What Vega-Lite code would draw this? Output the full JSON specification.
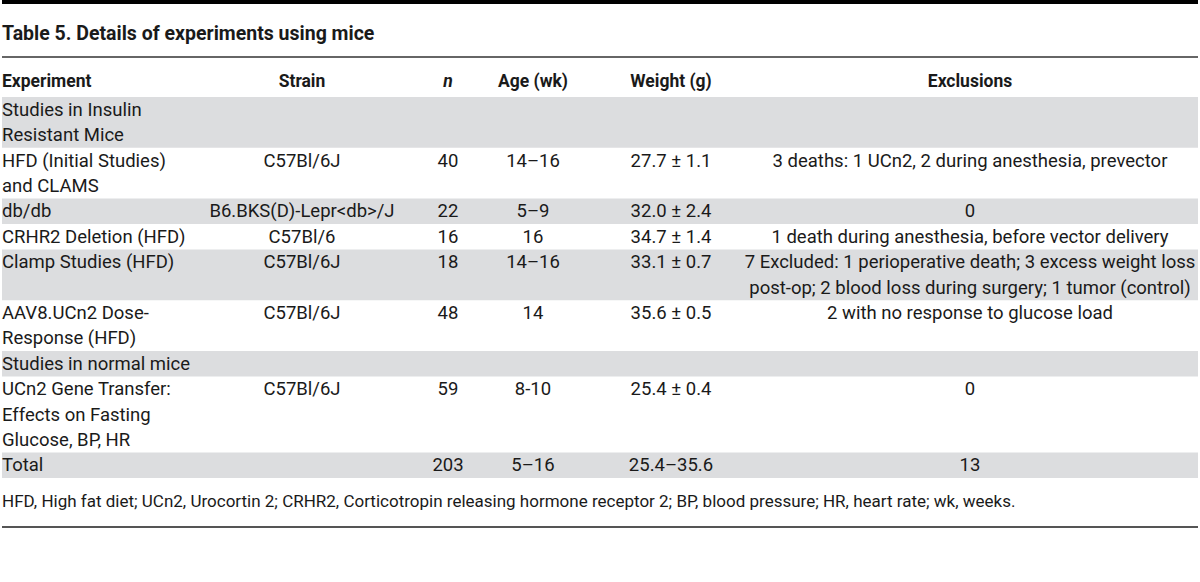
{
  "$schema": "https://vega.github.io/schema/vega-lite/v6.json",
  "width": 1200,
  "height": 582,
  "autosize": {"type": "fit", "contains": "padding"},
  "padding": 0,
  "background": "white",
  "config": {"view": {"stroke": null}, "text": {"font": "Roboto", "color": "#1a1a1a"}},
  "datasets": {
    "bands": [
      {"from": -0.5, "to": 1.5},
      {"from": 3.5, "to": 4.5},
      {"from": 5.5, "to": 7.5},
      {"from": 9.5, "to": 10.5},
      {"from": 13.5, "to": 14.5}
    ],
    "headers": [
      {"ci": 0, "text": "Experiment"},
      {"ci": 1, "text": "Strain"},
      {"ci": 2, "text": "n"},
      {"ci": 3, "text": "Age (wk)"},
      {"ci": 4, "text": "Weight (g)"},
      {"ci": 5, "text": "Exclusions"}
    ],
    "cells": [
      {"ci": 0, "ln": 0, "text": "Studies in Insulin"},
      {"ci": 0, "ln": 1, "text": "Resistant Mice"},
      {"ci": 0, "ln": 2, "text": "HFD (Initial Studies)"},
      {"ci": 0, "ln": 3, "text": "and CLAMS"},
      {"ci": 0, "ln": 4, "text": "db/db"},
      {"ci": 0, "ln": 5, "text": "CRHR2 Deletion (HFD)"},
      {"ci": 0, "ln": 6, "text": "Clamp Studies (HFD)"},
      {"ci": 0, "ln": 8, "text": "AAV8.UCn2 Dose-"},
      {"ci": 0, "ln": 9, "text": "Response (HFD)"},
      {"ci": 0, "ln": 10, "text": "Studies in normal mice"},
      {"ci": 0, "ln": 11, "text": "UCn2 Gene Transfer:"},
      {"ci": 0, "ln": 12, "text": "Effects on Fasting"},
      {"ci": 0, "ln": 13, "text": "Glucose, BP, HR"},
      {"ci": 0, "ln": 14, "text": "Total"},
      {"ci": 1, "ln": 2, "text": "C57Bl/6J"},
      {"ci": 1, "ln": 4, "text": "B6.BKS(D)-Lepr<db>/J"},
      {"ci": 1, "ln": 5, "text": "C57Bl/6"},
      {"ci": 1, "ln": 6, "text": "C57Bl/6J"},
      {"ci": 1, "ln": 8, "text": "C57Bl/6J"},
      {"ci": 1, "ln": 11, "text": "C57Bl/6J"},
      {"ci": 2, "ln": 2, "text": "40"},
      {"ci": 2, "ln": 4, "text": "22"},
      {"ci": 2, "ln": 5, "text": "16"},
      {"ci": 2, "ln": 6, "text": "18"},
      {"ci": 2, "ln": 8, "text": "48"},
      {"ci": 2, "ln": 11, "text": "59"},
      {"ci": 2, "ln": 14, "text": "203"},
      {"ci": 3, "ln": 2, "text": "14–16"},
      {"ci": 3, "ln": 4, "text": "5–9"},
      {"ci": 3, "ln": 5, "text": "16"},
      {"ci": 3, "ln": 6, "text": "14–16"},
      {"ci": 3, "ln": 8, "text": "14"},
      {"ci": 3, "ln": 11, "text": "8-10"},
      {"ci": 3, "ln": 14, "text": "5–16"},
      {"ci": 4, "ln": 2, "text": "27.7 ± 1.1"},
      {"ci": 4, "ln": 4, "text": "32.0 ± 2.4"},
      {"ci": 4, "ln": 5, "text": "34.7 ± 1.4"},
      {"ci": 4, "ln": 6, "text": "33.1 ± 0.7"},
      {"ci": 4, "ln": 8, "text": "35.6 ± 0.5"},
      {"ci": 4, "ln": 11, "text": "25.4 ± 0.4"},
      {"ci": 4, "ln": 14, "text": "25.4–35.6"},
      {"ci": 5, "ln": 2, "text": "3 deaths: 1 UCn2, 2 during anesthesia, prevector"},
      {"ci": 5, "ln": 4, "text": "0"},
      {"ci": 5, "ln": 5, "text": "1 death during anesthesia, before vector delivery"},
      {"ci": 5, "ln": 6, "text": "7 Excluded: 1 perioperative death; 3 excess weight loss"},
      {"ci": 5, "ln": 7, "text": "post-op; 2 blood loss during surgery; 1 tumor (control)"},
      {"ci": 5, "ln": 8, "text": "2 with no response to glucose load"},
      {"ci": 5, "ln": 11, "text": "0"},
      {"ci": 5, "ln": 14, "text": "13"}
    ],
    "notes": [
      {"title": "Table 5. Details of experiments using mice", "foot": "HFD, High fat diet; UCn2, Urocortin 2; CRHR2, Corticotropin releasing hormone receptor 2; BP, blood pressure; HR, heart rate; wk, weeks."}
    ]
  },
  "encoding": {
    "y": {"type": "quantitative", "scale": {"domain": [-4.319, 18.594], "reverse": true, "nice": false, "zero": false}, "axis": null}
  },
  "layer": [
    {"data": {"name": "bands"}, "mark": {"type": "rect", "color": "#dcdddf"}, "encoding": {"y": {"field": "from", "type": "quantitative", "axis": null}, "y2": {"field": "to"}}},
    {"data": {"values": [{}]}, "mark": {"type": "rule", "color": "#000000", "strokeWidth": 4}, "encoding": {"y": {"datum": -4.24, "type": "quantitative"}}},
    {"data": {"values": [{}]}, "mark": {"type": "rule", "color": "#333333", "strokeWidth": 1.5}, "encoding": {"y": {"datum": -2.075, "type": "quantitative"}}},
    {"data": {"values": [{}]}, "mark": {"type": "rule", "color": "#555555", "strokeWidth": 2}, "encoding": {"y": {"datum": 16.43, "type": "quantitative"}}},
    {"data": {"name": "notes"}, "mark": {"type": "text", "align": "left", "fontSize": 19.5, "fontWeight": "bold"}, "encoding": {"x": {"datum": 0, "type": "quantitative", "scale": {"domain": [0, 1, 2, 3, 4, 5, 6], "range": [0, 300, 446, 531, 669, 968, 1200]}, "axis": null}, "y": {"datum": -2.98, "type": "quantitative"}, "text": {"field": "title"}}},
    {"data": {"name": "notes"}, "mark": {"type": "text", "align": "left", "fontSize": 17}, "encoding": {"x": {"datum": 0, "type": "quantitative"}, "y": {"datum": 15.45, "type": "quantitative"}, "text": {"field": "foot"}}},
    {"data": {"name": "headers"}, "transform": [{"filter": "datum.ci === 0"}], "mark": {"type": "text", "align": "left", "fontSize": 17.5, "fontWeight": "bold"}, "encoding": {"x": {"field": "ci", "type": "quantitative"}, "y": {"datum": -1.09, "type": "quantitative"}, "text": {"field": "text"}}},
    {"data": {"name": "headers"}, "transform": [{"filter": "datum.ci === 1 || datum.ci >= 3"}], "mark": {"type": "text", "align": "center", "fontSize": 17.5, "fontWeight": "bold"}, "encoding": {"x": {"field": "ci", "type": "quantitative"}, "y": {"datum": -1.09, "type": "quantitative"}, "text": {"field": "text"}}},
    {"data": {"name": "headers"}, "transform": [{"filter": "datum.ci === 2"}], "mark": {"type": "text", "align": "center", "fontSize": 17.5, "fontWeight": "bold", "fontStyle": "italic"}, "encoding": {"x": {"field": "ci", "type": "quantitative"}, "y": {"datum": -1.09, "type": "quantitative"}, "text": {"field": "text"}}},
    {"data": {"name": "cells"}, "transform": [{"filter": "datum.ci === 0"}], "mark": {"type": "text", "align": "left", "fontSize": 18.5}, "encoding": {"x": {"field": "ci", "type": "quantitative"}, "y": {"field": "ln", "type": "quantitative"}, "text": {"field": "text"}}},
    {"data": {"name": "cells"}, "transform": [{"filter": "datum.ci > 0"}], "mark": {"type": "text", "align": "center", "fontSize": 18.5}, "encoding": {"x": {"field": "ci", "type": "quantitative"}, "y": {"field": "ln", "type": "quantitative"}, "text": {"field": "text"}}}
  ]
}
